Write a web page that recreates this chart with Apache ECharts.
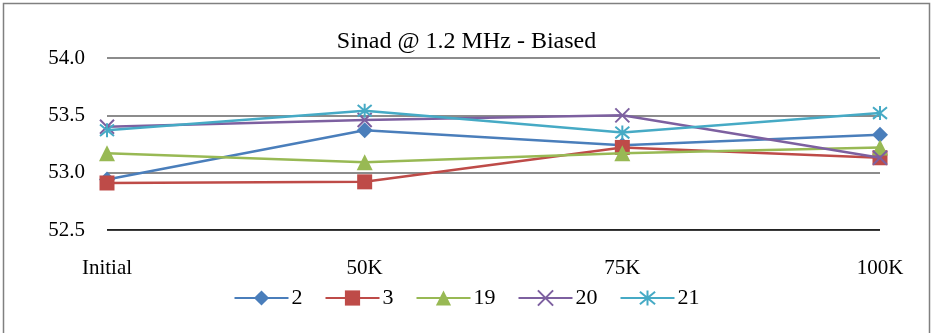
<!DOCTYPE html>
<html><head><meta charset="utf-8">
<script src="https://cdn.jsdelivr.net/npm/echarts@6/dist/echarts.min.js"></script>
<style>html,body{margin:0;padding:0;background:#fff}#c{width:933px;height:333px}</style>
</head><body><div id="c"></div>
<script>
const categories = ['Initial', '50K', '75K', '100K'];
const seriesNames = ['2', '3', '19', '20', '21'];
const s2  = [52.94, 53.37, 53.24, 53.33];
const s3  = [52.91, 52.92, 53.22, 53.13];
const s19 = [53.17, 53.09, 53.17, 53.22];
const s20 = [53.40, 53.46, 53.50, 53.13];
const s21 = [53.37, 53.54, 53.35, 53.52];
const yTicks = [52.5, 53.0, 53.5, 54.0];

const colors = ['#4A7EBB', '#BE4B48', '#98B954', '#7D60A0', '#46AAC5'];
const xPath = 'path://M0,0L10,10M10,0L0,10';
const starPath = 'path://M0,0L10,10M10,0L0,10M5,-1L5,11';
const symbols = ['diamond', 'rect', 'triangle', xPath, starPath];
const sizes = [16, 15, 16, 14, 14];
const data = [s2, s3, s19, s20, s21];
const font = 'Liberation Serif';

const chart = echarts.init(document.getElementById('c'), null, {renderer: 'canvas'});
chart.setOption({
  animation: false,
  backgroundColor: '#fff',
  title: {
    text: 'Sinad @ 1.2 MHz - Biased', left: 'center', top: 25,
    textStyle: {fontFamily: font, fontSize: 24, fontWeight: 'normal', color: '#000'}
  },
  graphic: [{
    type: 'rect', shape: {x: 3.5, y: 3.5, width: 926, height: 340},
    style: {fill: 'none', stroke: '#808080', lineWidth: 1.5}, silent: true
  }],
  legend: {
    top: 282, left: 'center', itemWidth: 54, itemHeight: 19, itemGap: 22,
    textStyle: {fontFamily: font, fontSize: 22, color: '#000', padding: [0,0,0,-2]},
    data: seriesNames
  },
  grid: {left: 107, right: 53, top: 58, bottom: 103, containLabel: false},
  xAxis: {
    type: 'category', data: categories, boundaryGap: false,
    axisLine: {show: false}, axisTick: {show: false},
    axisLabel: {fontFamily: font, fontSize: 21, color: '#000', margin: 28},
    splitLine: {show: false}
  },
  yAxis: {
    type: 'value', min: 52.5, max: 54.0, interval: 0.5,
    axisLine: {show: false}, axisTick: {show: false},
    axisLabel: {fontFamily: font, fontSize: 21, color: '#000', margin: 22,
      formatter: v => v.toFixed(1)},
    splitLine: {lineStyle: {color: '#8c8c8c', width: 2}}
  },
  series: data.map((d, i) => ({
    name: seriesNames[i], type: 'line', data: d,
    symbol: symbols[i], symbolSize: sizes[i],
    lineStyle: {color: colors[i], width: 2.5},
    itemStyle: {color: colors[i], borderColor: colors[i], borderWidth: i >= 3 ? 2 : 0},
    z: 2 + i
  })).concat([{
    type: 'line', data: [52.5, 52.5, 52.5, 52.5], symbol: 'none', silent: true,
    lineStyle: {color: '#000', width: 1.5}, z: 1, legendHoverLink: false
  }])
});
</script></body></html>
